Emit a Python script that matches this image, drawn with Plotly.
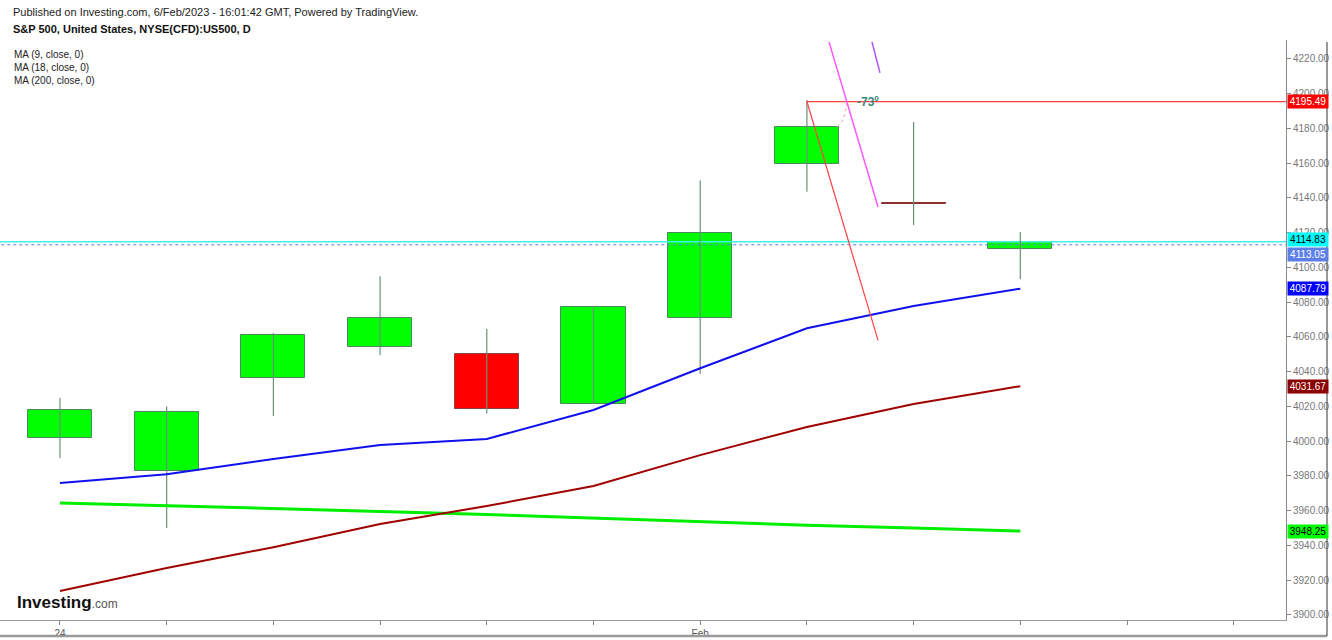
import plotly.graph_objects as go

# ---- data ----
dates = ["24 Jan", "25 Jan", "26 Jan", "27 Jan", "30 Jan", "31 Jan", "1 Feb", "2 Feb", "3 Feb", "6 Feb"]
opens  = [4002.0, 3983.0, 4036.4, 4054.0, 4050.0, 4021.4, 4071.0, 4159.6, 4136.6, 4110.6]
highs  = [4024.9, 4020.0, 4062.3, 4095.0, 4064.6, 4077.8, 4150.0, 4196.4, 4183.7, 4120.4]
lows   = [3990.4, 3950.0, 4014.5, 4049.6, 4016.0, 4021.4, 4038.7, 4143.5, 4124.5, 4093.4]
closes = [4018.0, 4016.8, 4061.0, 4071.0, 4018.6, 4077.0, 4119.9, 4180.9, 4136.6, 4114.8]

ma9   = [3976.0, 3981.0, 3989.8, 3997.8, 4001.3, 4018.0, 4042.0, 4065.0, 4077.8, 4087.79]
ma18  = [3913.8, 3927.0, 3939.0, 3952.4, 3962.7, 3974.2, 3992.0, 4008.2, 4021.4, 4031.67]
ma200 = [3964.5, 3963.0, 3961.5, 3959.6, 3957.8, 3955.6, 3953.6, 3951.6, 3950.0, 3948.25]

tick_labels = ["24", "", "", "", "", "", "Feb", "", "", "", "", ""]

# drawing tools (x in bar index units, y in price)
hline_red_level = 4195.49
red_diag_x = [7.0, 7.667]
red_diag_y = [4195.49, 4058.0]
magenta_x = [7.207, 7.667]
magenta_y = [4229.8, 4134.8]
purple_x = [7.61, 7.685]
purple_y = [4229.8, 4212.0]
arc_x = [7.375, 7.36, 7.33, 7.29, 7.27]
arc_y = [4195.0, 4189.0, 4184.0, 4181.0, 4180.0]
cyan_level = 4114.83
dotted_level = 4113.05

price_tags = [
    (4195.49, "#ff0000", "white"),
    (4114.83, "#00ffff", "black"),
    (4113.05, "#5b7fe6", "white"),
    (4087.79, "#0000ff", "white"),
    (4031.67, "#8b0000", "white"),
    (3948.25, "#00ff00", "black"),
]
tag_shift = {4114.83: 2, 4113.05: -10}

FONT = "Arial, Liberation Sans, sans-serif"
idx = list(range(len(dates)))

fig = go.Figure()

# horizontal lines
fig.add_trace(go.Scatter(x=[-1, 13], y=[cyan_level, cyan_level], mode="lines",
                         line=dict(color="#40f0f0", width=1.5), hoverinfo="skip"))
fig.add_trace(go.Scatter(x=[-1, 13], y=[dotted_level, dotted_level], mode="lines",
                         line=dict(color="#5b7fe6", width=1, dash="dot"), hoverinfo="skip"))

# wicks
wx, wy = [], []
for i in idx:
    wx += [i, i, None]
    wy += [lows[i], highs[i], None]
fig.add_trace(go.Scatter(x=wx, y=wy, mode="lines", line=dict(color="#6a9078", width=1.2),
                         hoverinfo="skip"))

# bodies
base = [min(o, c) for o, c in zip(opens, closes)]
height = [max(abs(c - o), 0.25) for o, c in zip(opens, closes)]
fill = []
edge = []
for o, c in zip(opens, closes):
    if abs(c - o) < 0.5:
        fill.append("#8b2020"); edge.append("#8b3030")
    elif c > o:
        fill.append("#00ff00"); edge.append("#4a8a5a")
    else:
        fill.append("#ff0000"); edge.append("#8a4040")
fig.add_trace(go.Bar(x=idx, y=height, base=base, width=0.6,
                     marker=dict(color=fill, line=dict(color=edge, width=1)),
                     hoverinfo="skip"))

# moving averages
fig.add_trace(go.Scatter(x=idx, y=ma200, mode="lines", line=dict(color="#00ee00", width=3)))
fig.add_trace(go.Scatter(x=idx, y=ma18, mode="lines", line=dict(color="#a00000", width=2)))
fig.add_trace(go.Scatter(x=idx, y=ma9, mode="lines", line=dict(color="#1010ee", width=2)))

# drawing tools
fig.add_trace(go.Scatter(x=[7.0, 13], y=[hline_red_level, hline_red_level], mode="lines",
                         line=dict(color="#ff4040", width=1.2)))
fig.add_trace(go.Scatter(x=red_diag_x, y=red_diag_y, mode="lines",
                         line=dict(color="#ff4040", width=1.2)))
fig.add_trace(go.Scatter(x=magenta_x, y=magenta_y, mode="lines",
                         line=dict(color="#ff55ff", width=1.5)))
fig.add_trace(go.Scatter(x=purple_x, y=purple_y, mode="lines",
                         line=dict(color="#b050ff", width=1.5)))
fig.add_trace(go.Scatter(x=arc_x, y=arc_y, mode="lines",
                         line=dict(color="#ff9999", width=1, dash="dot")))

annotations = [
    dict(x=7.45, y=4195.49, text="<b>-73º</b>", showarrow=False, xanchor="left", yanchor="middle",
         font=dict(family=FONT, size=12, color="#3a8a7a"), yshift=0),
    dict(xref="paper", yref="paper", x=0.0085, y=1.0 + 28 / 580, text="Published on Investing.com, 6/Feb/2023 - 16:01:42 GMT, Powered by TradingView.",
         showarrow=False, xanchor="left", yanchor="middle", font=dict(family=FONT, size=11, color="#222")),
    dict(xref="paper", yref="paper", x=0.0085, y=1.0 + 11 / 580, text="<b>S&P 500, United States, NYSE(CFD):US500, D</b>",
         showarrow=False, xanchor="left", yanchor="middle", font=dict(family=FONT, size=11, color="#111")),
    dict(xref="paper", yref="paper", x=0.009, y=1.0 - 7 / 580, text="MA (9, close, 0)<br>MA (18, close, 0)<br>MA (200, close, 0)",
         showarrow=False, xanchor="left", yanchor="top", align="left",
         font=dict(family=FONT, size=10, color="#222")),
    dict(xref="paper", yref="paper", x=15 / 1286, y=(620 - 602) / 580,
         text="<b>Investing</b><span style='font-size:12px;color:#555'>.com</span>",
         showarrow=False, xanchor="left", yanchor="middle",
         font=dict(family=FONT, size=17, color="#111")),
]
for val, bg, fg in price_tags:
    annotations.append(dict(xref="paper", x=1.0, y=val, xanchor="left", yanchor="middle",
                            text=f"{val:.2f}", showarrow=False, bgcolor=bg,
                            font=dict(family=FONT, size=10, color=fg),
                            borderpad=1, width=38, xshift=1, yshift=tag_shift.get(val, 0)))

shapes = [
    dict(type="line", xref="paper", yref="paper", x0=0, x1=1327 / 1286,
         y0=-16 / 580, y1=-16 / 580, line=dict(color="#999", width=2.5)),
    dict(type="line", xref="paper", yref="paper", x0=1327 / 1286, x1=1327 / 1286,
         y0=-16 / 580, y1=1.0 - 2 / 580, line=dict(color="#555", width=1.2)),
]

fig.update_layout(
    width=1332, height=640,
    margin=dict(l=0, r=46, t=40, b=20),
    paper_bgcolor="white", plot_bgcolor="white",
    showlegend=False,
    bargap=0,
    annotations=annotations,
    shapes=shapes,
    font=dict(family=FONT, size=10, color="#666"),
)
fig.update_xaxes(range=[-0.562, 11.49], tickvals=list(range(12)), ticktext=tick_labels,
                 showgrid=False, zeroline=False, showline=True, linecolor="#999", linewidth=1,
                 ticks="outside", ticklen=4, tickcolor="#888",
                 tickfont=dict(family=FONT, size=10, color="#555"), fixedrange=True)
fig.update_yaxes(side="right", range=[3897.1, 4230.9], dtick=20, tick0=3900, tickformat=".2f",
                 showgrid=False, zeroline=False, showline=True, linecolor="#888", linewidth=1,
                 ticks="outside", ticklen=4, tickcolor="#888",
                 tickfont=dict(family=FONT, size=10, color="#777"))

fig.write_html("out.html", config={"displayModeBar": False},
               post_script="document.body.style.margin='0';document.body.style.overflow='hidden';")
